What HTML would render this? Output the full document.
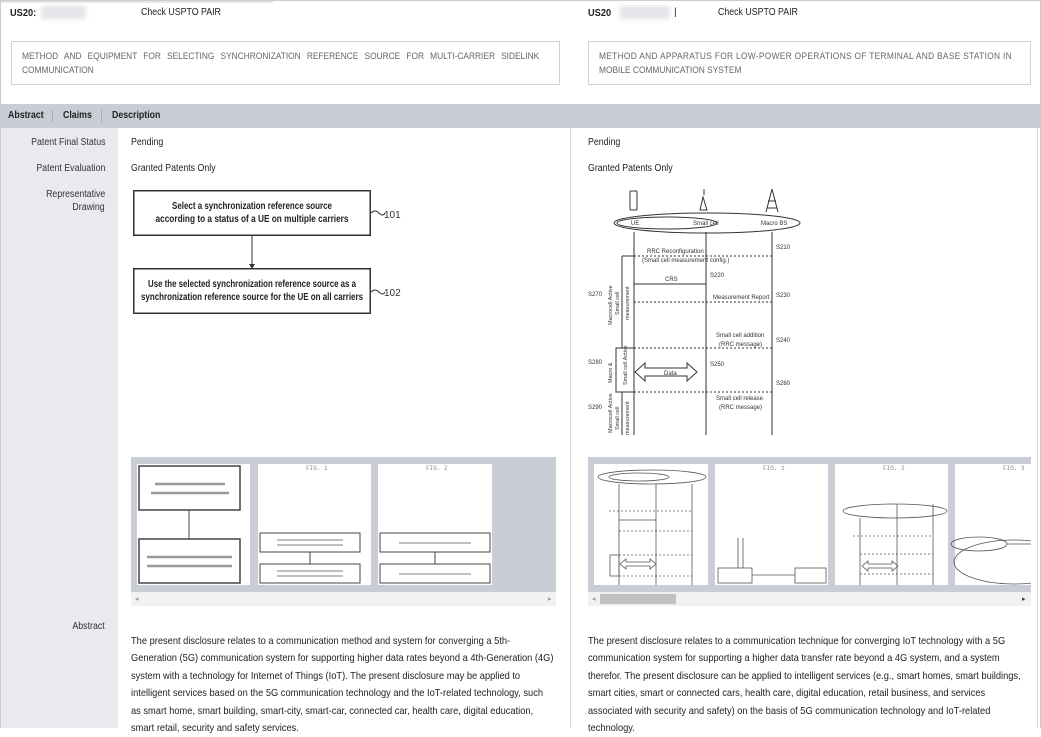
<!DOCTYPE html>
<html><head><meta charset="utf-8"><style>
*{margin:0;padding:0;box-sizing:border-box}
body{width:1041px;height:728px;overflow:hidden;background:#fff;font-family:"Liberation Sans",sans-serif;color:#222;position:relative}
.a{position:absolute;white-space:nowrap}
.frame{position:absolute;left:0;top:0;width:1041px;height:728px;border:1px solid #c8ccd2;border-bottom:none}
.t{font-size:10px;color:#222}
.c{display:inline-block;transform:scaleX(0.88);transform-origin:0 0;white-space:nowrap}
.title{position:absolute;border:1px solid #cfd3d8;font-size:9.5px;color:#666;padding:8px 10px;line-height:14px}
.lab{font-size:10px;color:#333;text-align:right}
.abs{position:absolute;font-size:10.5px;line-height:17.4px;color:#222;white-space:nowrap}
.abs span{display:block;transform:scaleX(0.885);transform-origin:0 0}
.strip{position:absolute;background:#c9cdd5}
.sb{position:absolute;background:#f1f1f1}
.thumb{position:absolute;background:#fff;top:464px;height:121px}
</style></head><body>
<div class="frame"></div>
<div class="a" style="left:1px;top:1px;width:272px;height:2px;background:#e6e6e6"></div>
<!-- header -->
<div class="a" style="left:10px;top:7px;font-size:10.5px;font-weight:bold"><span class="c">US20:</span></div>
<div class="a" style="left:41px;top:6px;width:45px;height:13px;background:#e3e5e8;filter:blur(2px)"></div>
<div class="a t" style="left:141px;top:7px"><span class="c">Check USPTO PAIR</span></div>
<div class="a" style="left:588px;top:7px;font-size:10.5px;font-weight:bold"><span class="c">US20</span></div>
<div class="a" style="left:620px;top:6px;width:50px;height:13px;background:#e3e5e8;filter:blur(2px)"></div>
<div class="a t" style="left:674px;top:7px">|</div>
<div class="a t" style="left:718px;top:7px"><span class="c">Check USPTO PAIR</span></div>
<div class="title" style="left:11px;top:41px;width:549px;height:44px"><span class="c" style="word-spacing:4.3px">METHOD AND EQUIPMENT FOR SELECTING SYNCHRONIZATION REFERENCE SOURCE FOR MULTI-CARRIER SIDELINK</span><br><span class="c">COMMUNICATION</span></div>
<div class="title" style="left:588px;top:41px;width:443px;height:44px"><span class="c" style="letter-spacing:0.35px">METHOD AND APPARATUS FOR LOW-POWER OPERATIONS OF TERMINAL AND BASE STATION IN</span><br><span class="c">MOBILE COMMUNICATION SYSTEM</span></div>
<!-- tab bar -->
<div class="a" style="left:1px;top:104px;width:1039px;height:24px;background:#c9ced6"></div>
<div class="a" style="left:8px;top:110px;font-size:10px;font-weight:bold"><span class="c">Abstract</span></div>
<div class="a" style="left:52px;top:110px;width:1px;height:12px;background:#aab"></div>
<div class="a" style="left:63px;top:110px;font-size:10px;font-weight:bold"><span class="c">Claims</span></div>
<div class="a" style="left:101px;top:110px;width:1px;height:12px;background:#aab"></div>
<div class="a" style="left:112px;top:110px;font-size:10px;font-weight:bold"><span class="c">Description</span></div>
<!-- label column -->
<div class="a" style="left:1px;top:128px;width:117px;height:600px;background:#e8eaee"></div>
<div class="a" style="left:570px;top:128px;width:1px;height:600px;background:#d5d8dc"></div>
<div class="a" style="left:1037px;top:128px;width:1px;height:600px;background:#d5d8dc"></div>
<div class="a lab" style="left:0;width:105px;top:137px"><span class="c" style="transform-origin:100% 0">Patent Final Status</span></div>
<div class="a lab" style="left:0;width:105px;top:163px"><span class="c" style="transform-origin:100% 0">Patent Evaluation</span></div>
<div class="a lab" style="left:0;width:105px;top:189px;line-height:12.5px"><span class="c" style="transform-origin:100% 0">Representative</span><br><span class="c" style="transform-origin:100% 0">Drawing</span></div>
<div class="a lab" style="left:0;width:105px;top:621px"><span class="c" style="transform-origin:100% 0">Abstract</span></div>
<div class="a t" style="left:131px;top:137px"><span class="c">Pending</span></div>
<div class="a t" style="left:131px;top:163px"><span class="c">Granted Patents Only</span></div>
<div class="a t" style="left:588px;top:137px"><span class="c">Pending</span></div>
<div class="a t" style="left:588px;top:163px"><span class="c">Granted Patents Only</span></div>
<!-- left flowchart -->
<svg class="a" style="left:120px;top:180px" width="300" height="150" font-family="Liberation Sans" font-weight="bold" font-size="10" fill="#222">
<rect x="13.75" y="10.75" width="236.5" height="44.5" fill="none" stroke="#333" stroke-width="1.5"/>
<rect x="13.75" y="88.75" width="236.5" height="44.5" fill="none" stroke="#333" stroke-width="1.5"/>
<text x="132" y="29" text-anchor="middle" textLength="160" lengthAdjust="spacingAndGlyphs">Select a synchronization reference source</text>
<text x="132" y="42" text-anchor="middle" textLength="193" lengthAdjust="spacingAndGlyphs">according to a status of a UE on multiple carriers</text>
<text x="132" y="107" text-anchor="middle" textLength="208" lengthAdjust="spacingAndGlyphs">Use the selected synchronization reference source as a</text>
<text x="132" y="120" text-anchor="middle" textLength="222" lengthAdjust="spacingAndGlyphs">synchronization reference source for the UE on all carriers</text>
<g font-weight="normal">
<line x1="132" y1="56" x2="132" y2="86" stroke="#333"/><polygon points="129,84 135,84 132,89" fill="#333"/>
<path d="M251 33 q4 -4 8 0 t6 0" stroke="#333" fill="none"/><text x="264" y="38" font-size="10" fill="#333">101</text>
<path d="M251 112 q4 -4 8 0 t6 0" stroke="#333" fill="none"/><text x="264" y="116" font-size="10" fill="#333">102</text></g>
</svg>
<!-- right sequence diagram -->
<svg class="a" style="left:580px;top:185px" width="230" height="250" font-family="Liberation Sans" font-size="6" fill="#333">
<g stroke="#333" fill="none" stroke-width="1">
<ellipse cx="127" cy="38" rx="93" ry="10"/>
<ellipse cx="87" cy="38" rx="50" ry="6"/>
<rect x="50" y="6" width="7" height="19" rx="1"/>
<path d="M123 12 l-3 13 h7 z M124 4 v6"/>
<path d="M192 4 l-6 23 M192 4 l6 23 M188 16 h8 M187 23 h10"/>
<line x1="54" y1="47" x2="54" y2="250"/><line x1="126" y1="47" x2="126" y2="250"/><line x1="192" y1="47" x2="192" y2="250"/>
<line x1="54" y1="71" x2="192" y2="71" stroke-dasharray="2,2"/>
<line x1="54" y1="99" x2="126" y2="99"/>
<line x1="54" y1="117" x2="192" y2="117" stroke-dasharray="2,2"/>
<line x1="54" y1="163" x2="192" y2="163" stroke-dasharray="2,2"/>
<line x1="54" y1="207" x2="192" y2="207" stroke-dasharray="2,2"/>
<rect x="36" y="163" width="18" height="44"/>
<line x1="42" y1="71" x2="54" y2="71"/>
<line x1="42" y1="71" x2="42" y2="163"/>
<line x1="42" y1="207" x2="42" y2="250"/>
<path d="M55 187 l10 -9 v5 h42 v-5 l10 9 l-10 9 v-5 h-42 v5 z"/>
</g>
<text x="51" y="40">UE</text><text x="113" y="40">Small cell</text><text x="181" y="40">Macro BS</text>
<text x="67" y="68">RRC Reconfiguration</text><text x="62" y="77">(Small cell measurement config.)</text>
<text x="85" y="96">CRS</text><text x="130" y="92">S220</text>
<text x="133" y="114">Measurement Report</text><text x="196" y="112">S230</text>
<text x="196" y="64">S210</text>
<text x="136" y="152">Small cell addition</text><text x="139" y="161">(RRC message)</text><text x="196" y="157">S240</text>
<text x="84" y="190">Data</text><text x="130" y="181">S250</text><text x="196" y="200">S260</text>
<text x="136" y="215">Small cell release</text><text x="139" y="224">(RRC message)</text>
<text x="8" y="111">S270</text><text x="8" y="179">S280</text><text x="8" y="224">S290</text>
<g font-size="5.5"><text transform="translate(32,140) rotate(-90)">Macrocell Active</text><text transform="translate(39,130) rotate(-90)">Small cell</text><text transform="translate(49,135) rotate(-90)">measurement</text>
<text transform="translate(32,198) rotate(-90)">Macro &amp;</text><text transform="translate(47,200) rotate(-90)">Small cell Active</text>
<text transform="translate(32,248) rotate(-90)">Macrocell Active</text><text transform="translate(39,245) rotate(-90)">Small cell</text><text transform="translate(49,250) rotate(-90)">measurement</text></g>
</svg>
<!-- thumbnail strips -->
<div class="strip" style="left:131px;top:457px;width:425px;height:135px"></div>
<div class="sb" style="left:131px;top:592px;width:425px;height:14px"></div>
<div class="a" style="left:135px;top:595px;font-size:7px;color:#999">◂</div>
<div class="a" style="left:548px;top:595px;font-size:7px;color:#999">▸</div>
<div class="thumb" style="left:137px;width:113px"></div>
<div class="thumb" style="left:258px;width:113px"><div class="a" style="left:48px;top:1px;font-size:6px;color:#888;font-family:'Liberation Mono'">FIG. 1</div></div>
<div class="thumb" style="left:378px;width:114px"><div class="a" style="left:48px;top:1px;font-size:6px;color:#888;font-family:'Liberation Mono'">FIG. 2</div></div>
<svg class="a" style="left:137px;top:464px" width="360" height="121" stroke="#444" fill="none">
<rect x="2" y="2" width="101" height="44" stroke-width="1.5"/><rect x="2" y="75" width="101" height="44" stroke-width="1.5"/><line x1="52" y1="46" x2="52" y2="75"/>
<g stroke="#999" stroke-width="2.5"><line x1="18" y1="20" x2="88" y2="20"/><line x1="14" y1="29" x2="92" y2="29"/><line x1="10" y1="93" x2="95" y2="93"/><line x1="10" y1="102" x2="95" y2="102"/></g>
<rect x="123" y="69" width="100" height="19"/><rect x="123" y="100" width="100" height="19"/><line x1="173" y1="88" x2="173" y2="100"/>
<rect x="243" y="69" width="110" height="19"/><rect x="243" y="100" width="110" height="19"/><line x1="298" y1="88" x2="298" y2="100"/>
<g stroke="#aaa" stroke-width="1.5"><line x1="140" y1="76" x2="206" y2="76"/><line x1="140" y1="81" x2="206" y2="81"/><line x1="140" y1="107" x2="206" y2="107"/><line x1="140" y1="112" x2="206" y2="112"/><line x1="262" y1="79" x2="334" y2="79"/><line x1="262" y1="110" x2="334" y2="110"/></g>
</svg>
<div class="strip" style="left:588px;top:457px;width:443px;height:135px"></div>
<div class="sb" style="left:588px;top:592px;width:443px;height:14px"></div>
<div class="a" style="left:600px;top:594px;width:76px;height:10px;background:#c1c1c1"></div>
<div class="a" style="left:592px;top:595px;font-size:7px;color:#999">◂</div>
<div class="a" style="left:1022px;top:595px;font-size:7px;color:#333">▸</div>
<div class="thumb" style="left:594px;width:114px"></div>
<div class="thumb" style="left:715px;width:113px"><div class="a" style="left:48px;top:1px;font-size:6px;color:#888;font-family:'Liberation Mono'">FIG. 1</div></div>
<div class="thumb" style="left:835px;width:113px"><div class="a" style="left:48px;top:1px;font-size:6px;color:#888;font-family:'Liberation Mono'">FIG. 2</div></div>
<div class="thumb" style="left:955px;width:76px"><div class="a" style="left:48px;top:1px;font-size:6px;color:#888;font-family:'Liberation Mono'">FIG. 3</div></div>
<svg class="a" style="left:594px;top:464px" width="437" height="121" stroke="#555" fill="none" stroke-width="0.8">
<ellipse cx="58" cy="13" rx="54" ry="7"/><ellipse cx="45" cy="13" rx="30" ry="4"/><line x1="25" y1="20" x2="25" y2="121"/><line x1="62" y1="20" x2="62" y2="121"/><line x1="98" y1="20" x2="98" y2="121"/>
<line x1="15" y1="47" x2="98" y2="47" stroke-dasharray="2,2"/><line x1="25" y1="56" x2="62" y2="56"/><line x1="25" y1="67" x2="98" y2="67" stroke-dasharray="2,2"/><line x1="25" y1="91" x2="98" y2="91" stroke-dasharray="2,2"/><line x1="25" y1="112" x2="98" y2="112" stroke-dasharray="2,2"/>
<path d="M26 100 l6 -5 v3 h24 v-3 l6 5 l-6 5 v-3 h-24 v3 z"/><rect x="16" y="91" width="9" height="21"/>
<g transform="translate(121,0)"><rect x="3" y="104" width="34" height="15"/><rect x="80" y="104" width="31" height="15"/><line x1="37" y1="111" x2="80" y2="111"/><line x1="28" y1="74" x2="28" y2="104"/><line x1="23" y1="74" x2="23" y2="104"/></g>
<g transform="translate(241,0)"><ellipse cx="60" cy="47" rx="52" ry="7"/><line x1="25" y1="54" x2="25" y2="121"/><line x1="62" y1="40" x2="62" y2="121"/><line x1="98" y1="40" x2="98" y2="121"/><line x1="18" y1="72" x2="98" y2="72" stroke-dasharray="2,2"/><line x1="25" y1="90" x2="98" y2="90" stroke-dasharray="2,2"/><line x1="25" y1="110" x2="98" y2="110" stroke-dasharray="2,2"/><path d="M27 102 l6 -5 v3 h24 v-3 l6 5 l-6 5 v-3 h-24 v3 z"/></g>
<ellipse cx="385" cy="80" rx="28" ry="7"/><ellipse cx="420" cy="98" rx="60" ry="22"/><line x1="413" y1="80" x2="437" y2="80"/>
</svg>
<!-- abstracts -->
<div class="abs" style="left:131px;top:633px"><span>The present disclosure relates to a communication method and system for converging a 5th-</span><span>Generation (5G) communication system for supporting higher data rates beyond a 4th-Generation (4G)</span><span>system with a technology for Internet of Things (IoT). The present disclosure may be applied to</span><span>intelligent services based on the 5G communication technology and the IoT-related technology, such</span><span>as smart home, smart building, smart-city, smart-car, connected car, health care, digital education,</span><span>smart retail, security and safety services.</span></div>
<div class="abs" style="left:588px;top:633px"><span>The present disclosure relates to a communication technique for converging IoT technology with a 5G</span><span>communication system for supporting a higher data transfer rate beyond a 4G system, and a system</span><span>therefor. The present disclosure can be applied to intelligent services (e.g., smart homes, smart buildings,</span><span>smart cities, smart or connected cars, health care, digital education, retail business, and services</span><span>associated with security and safety) on the basis of 5G communication technology and IoT-related</span><span>technology.</span></div>
</body></html>
